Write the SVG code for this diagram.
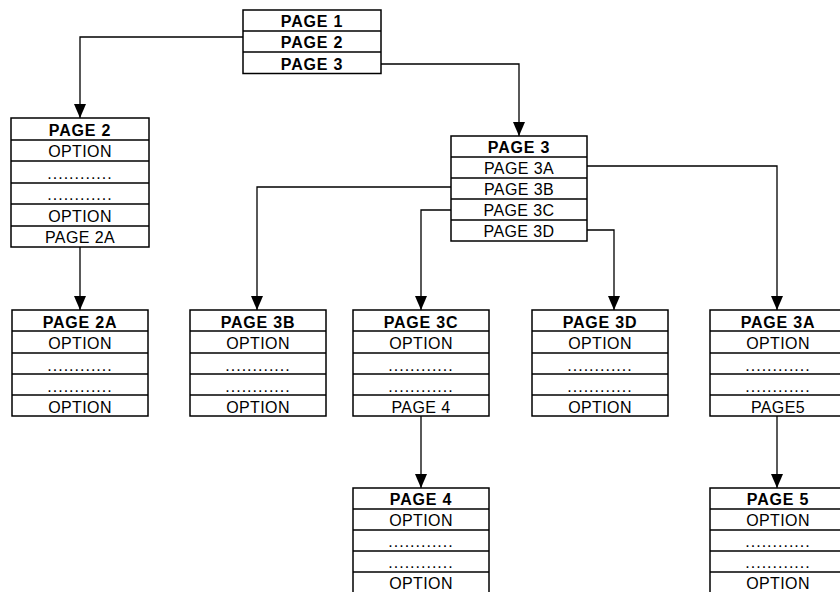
<svg xmlns="http://www.w3.org/2000/svg" width="840" height="592" viewBox="0 0 840 592">
<style>
.b rect{fill:#fff;stroke:#000;stroke-width:1.5}
.b line{stroke:#000;stroke-width:1.5}
.h{font-family:"Liberation Sans",Arial,sans-serif;font-weight:bold;font-size:16px;text-anchor:middle;letter-spacing:0.8px;fill:#000}
.t{font-family:"Liberation Sans",Arial,sans-serif;font-size:16px;text-anchor:middle;letter-spacing:0.4px;fill:#000}
.d{font-family:"Liberation Sans",Arial,sans-serif;font-size:16px;text-anchor:middle;letter-spacing:1px;fill:#000}
.c path{fill:none;stroke:#000;stroke-width:1.3}
</style>
<defs>
<marker id="ar" markerUnits="userSpaceOnUse" markerWidth="14" markerHeight="12" refX="14" refY="6" orient="auto">
<path d="M0,0 L14,6 L0,12 z" fill="#000"/>
</marker>
</defs>
<g class="c">
<path d="M243,37 H80 V118" marker-end="url(#ar)"/>
<path d="M381,64 H519 V136" marker-end="url(#ar)"/>
<path d="M451,187 H257 V310" marker-end="url(#ar)"/>
<path d="M451,210 H421 V310" marker-end="url(#ar)"/>
<path d="M587,230 H614 V310" marker-end="url(#ar)"/>
<path d="M587,166 H777 V310" marker-end="url(#ar)"/>
<path d="M80,247 V310" marker-end="url(#ar)"/>
<path d="M421,416 V488" marker-end="url(#ar)"/>
<path d="M777,416 V488" marker-end="url(#ar)"/>
</g>
<g id="page1" class="b">
<rect x="243" y="10" width="138" height="63.5"/>
<line x1="243" y1="31" x2="381" y2="31"/><line x1="243" y1="52" x2="381" y2="52"/>
<text class="h" x="312" y="27">PAGE 1</text>
<text class="h" x="312" y="48">PAGE 2</text>
<text class="h" x="312" y="69.5">PAGE 3</text>
</g>
<g id="page2" class="b">
<rect x="11" y="118" width="138" height="129"/>
<line x1="11" y1="140" x2="149" y2="140"/><line x1="11" y1="161" x2="149" y2="161"/><line x1="11" y1="183" x2="149" y2="183"/><line x1="11" y1="204" x2="149" y2="204"/><line x1="11" y1="226" x2="149" y2="226"/>
<text class="h" x="80" y="135.5">PAGE 2</text>
<text class="t" x="80" y="157">OPTION</text>
<text class="d" x="80" y="178.5">............</text>
<text class="d" x="80" y="200">............</text>
<text class="t" x="80" y="221.5">OPTION</text>
<text class="t" x="80" y="243">PAGE 2A</text>
</g>
<g id="page3" class="b">
<rect x="451" y="136" width="136" height="105"/>
<line x1="451" y1="157" x2="587" y2="157"/><line x1="451" y1="178" x2="587" y2="178"/><line x1="451" y1="199" x2="587" y2="199"/><line x1="451" y1="220" x2="587" y2="220"/>
<text class="h" x="519" y="153">PAGE 3</text>
<text class="t" x="519" y="174">PAGE 3A</text>
<text class="t" x="519" y="195">PAGE 3B</text>
<text class="t" x="519" y="216">PAGE 3C</text>
<text class="t" x="519" y="237">PAGE 3D</text>
</g>
<g id="page2a" class="b">
<rect x="12" y="310" width="136" height="106"/>
<line x1="12" y1="331" x2="148" y2="331"/><line x1="12" y1="353" x2="148" y2="353"/><line x1="12" y1="374" x2="148" y2="374"/><line x1="12" y1="395" x2="148" y2="395"/>
<text class="h" x="80" y="327.5">PAGE 2A</text>
<text class="t" x="80" y="348.5">OPTION</text>
<text class="d" x="80" y="370.5">............</text>
<text class="d" x="80" y="391.5">............</text>
<text class="t" x="80" y="412.5">OPTION</text>
</g>
<g id="page3b" class="b">
<rect x="190" y="310" width="136" height="106"/>
<line x1="190" y1="331" x2="326" y2="331"/><line x1="190" y1="353" x2="326" y2="353"/><line x1="190" y1="374" x2="326" y2="374"/><line x1="190" y1="395" x2="326" y2="395"/>
<text class="h" x="258" y="327.5">PAGE 3B</text>
<text class="t" x="258" y="348.5">OPTION</text>
<text class="d" x="258" y="370.5">............</text>
<text class="d" x="258" y="391.5">............</text>
<text class="t" x="258" y="412.5">OPTION</text>
</g>
<g id="page3c" class="b">
<rect x="353" y="310" width="136" height="106"/>
<line x1="353" y1="331" x2="489" y2="331"/><line x1="353" y1="353" x2="489" y2="353"/><line x1="353" y1="374" x2="489" y2="374"/><line x1="353" y1="395" x2="489" y2="395"/>
<text class="h" x="421" y="327.5">PAGE 3C</text>
<text class="t" x="421" y="348.5">OPTION</text>
<text class="d" x="421" y="370.5">............</text>
<text class="d" x="421" y="391.5">............</text>
<text class="t" x="421" y="412.5">PAGE 4</text>
</g>
<g id="page3d" class="b">
<rect x="532" y="310" width="136" height="106"/>
<line x1="532" y1="331" x2="668" y2="331"/><line x1="532" y1="353" x2="668" y2="353"/><line x1="532" y1="374" x2="668" y2="374"/><line x1="532" y1="395" x2="668" y2="395"/>
<text class="h" x="600" y="327.5">PAGE 3D</text>
<text class="t" x="600" y="348.5">OPTION</text>
<text class="d" x="600" y="370.5">............</text>
<text class="d" x="600" y="391.5">............</text>
<text class="t" x="600" y="412.5">OPTION</text>
</g>
<g id="page3a" class="b">
<rect x="710" y="310" width="136" height="106"/>
<line x1="710" y1="331" x2="846" y2="331"/><line x1="710" y1="353" x2="846" y2="353"/><line x1="710" y1="374" x2="846" y2="374"/><line x1="710" y1="395" x2="846" y2="395"/>
<text class="h" x="778" y="327.5">PAGE 3A</text>
<text class="t" x="778" y="348.5">OPTION</text>
<text class="d" x="778" y="370.5">............</text>
<text class="d" x="778" y="391.5">............</text>
<text class="t" x="778" y="412.5">PAGE5</text>
</g>
<g id="page4" class="b">
<rect x="353" y="488" width="136" height="106"/>
<line x1="353" y1="509" x2="489" y2="509"/><line x1="353" y1="530" x2="489" y2="530"/><line x1="353" y1="551" x2="489" y2="551"/><line x1="353" y1="572" x2="489" y2="572"/>
<text class="h" x="421" y="505">PAGE 4</text>
<text class="t" x="421" y="526">OPTION</text>
<text class="d" x="421" y="547">............</text>
<text class="d" x="421" y="568">............</text>
<text class="t" x="421" y="589">OPTION</text>
</g>
<g id="page5" class="b">
<rect x="710" y="488" width="136" height="106"/>
<line x1="710" y1="509" x2="846" y2="509"/><line x1="710" y1="530" x2="846" y2="530"/><line x1="710" y1="551" x2="846" y2="551"/><line x1="710" y1="572" x2="846" y2="572"/>
<text class="h" x="778" y="505">PAGE 5</text>
<text class="t" x="778" y="526">OPTION</text>
<text class="d" x="778" y="547">............</text>
<text class="d" x="778" y="568">............</text>
<text class="t" x="778" y="589">OPTION</text>
</g>
</svg>
